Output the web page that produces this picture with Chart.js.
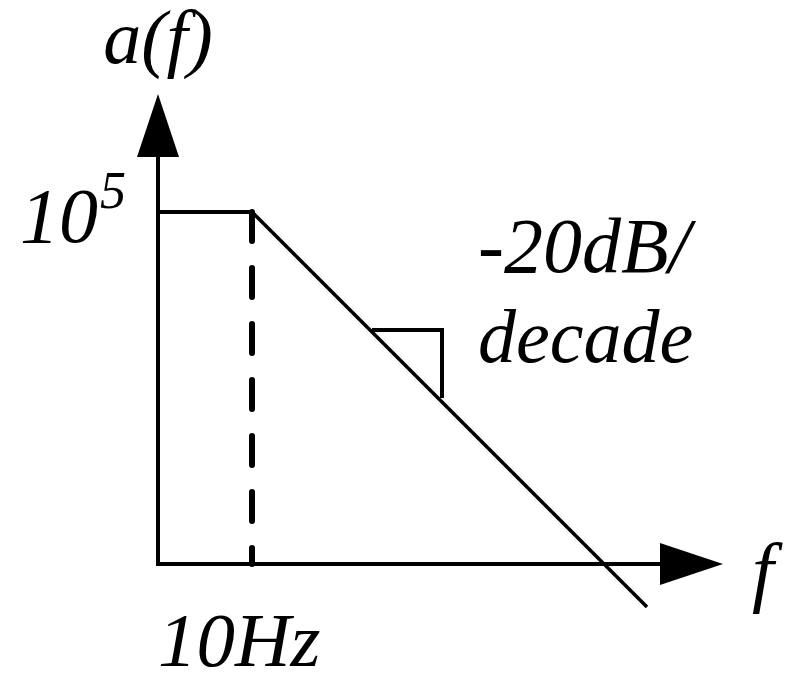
<!DOCTYPE html>
<html>
<head>
<meta charset="utf-8">
<script src="https://cdn.jsdelivr.net/npm/chart.js@4/dist/chart.umd.min.js"></script>
<style>
  html, body { margin: 0; padding: 0; background: #ffffff; }
  #wrap { width: 793px; height: 673px; position: relative; }
</style>
</head>
<body>
<div id="wrap"><canvas id="c"></canvas></div>
<script>
// Schematic Bode magnitude plot (abstract sketch units)
const responseX = [0, 9.4, 48.9];      // flat gain, then -20dB/decade roll-off
const responseY = [35.2, 35.2, -4.3];
const cornerX = [9.4, 9.4];            // 10 Hz corner (dashed)
const cornerY = [35.2, 0];
const slopeMarkX = [21.4, 28.4, 28.4]; // right-angle slope marker
const slopeMarkY = [23.4, 23.4, 16.6];
const yAxisX = [0, 0];
const yAxisY = [0, 41.0];
const xAxisX = [0, 50.6];
const xAxisY = [0, 0];
const yArrowX = [-2.1, 0, 2.1];
const yArrowY = [40.7, 47.0, 40.7];
const xArrowUpX = [50.2, 56.5];
const xArrowUpY = [2.1, 0];
const xArrowDnX = [50.2, 56.5];
const xArrowDnY = [-2.1, 0];

const labels = [
  { text: 'a(f)', x: 0, y: 50.1, size: 76, align: 'center' },
  { text: '10', x: -13.8, y: 32.2, size: 78, align: 'left' },
  { text: '5', x: -5.8, y: 35.6, size: 52, align: 'left' },
  { text: '-20dB/', x: 32.0, y: 29.2, size: 78, align: 'left' },
  { text: 'decade', x: 32.0, y: 20.2, size: 76, align: 'left' },
  { text: '10Hz', x: 0, y: -10.2, size: 77, align: 'left' },
  { text: 'f', x: 59.4, y: -3.3, size: 78, align: 'left' }
];

const pts = (xs, ys) => xs.map((x, i) => ({ x: x, y: ys[i] }));
const base = { showLine: true, pointRadius: 0, pointHoverRadius: 0, borderColor: '#000', backgroundColor: '#000', clip: false };

const textPlugin = {
  id: 'texts',
  afterDraw(chart) {
    const ctx = chart.ctx, xs = chart.scales.x, ys = chart.scales.y;
    ctx.save();
    ctx.fillStyle = '#000';
    ctx.textBaseline = 'alphabetic';
    labels.forEach(l => {
      ctx.font = 'italic ' + l.size + 'px "Liberation Serif", "Times New Roman", serif';
      ctx.textAlign = l.align;
      ctx.fillText(l.text, xs.getPixelForValue(l.x), ys.getPixelForValue(l.y));
    });
    ctx.restore();
  }
};

new Chart(document.getElementById('c'), {
  type: 'scatter',
  data: {
    datasets: [
      Object.assign({}, base, { data: pts(yAxisX, yAxisY), borderWidth: 4, borderCapStyle: 'square' }),
      Object.assign({}, base, { data: pts(xAxisX, xAxisY), borderWidth: 4, borderCapStyle: 'square' }),
      Object.assign({}, base, { data: pts(yArrowX, yArrowY), borderWidth: 0, fill: { value: 40.7 } }),
      Object.assign({}, base, { data: pts(xArrowUpX, xArrowUpY), borderWidth: 0, fill: { value: 0 } }),
      Object.assign({}, base, { data: pts(xArrowDnX, xArrowDnY), borderWidth: 0, fill: { value: 0 } }),
      Object.assign({}, base, { data: pts(cornerX, cornerY), borderWidth: 6, borderDash: [29, 27], borderCapStyle: 'round' }),
      Object.assign({}, base, { data: pts(responseX.slice(0, 2), responseY.slice(0, 2)), borderWidth: 4 }),
      Object.assign({}, base, { data: pts(responseX.slice(1), responseY.slice(1)), borderWidth: 3.5 }),
      Object.assign({}, base, { data: pts(slopeMarkX, slopeMarkY), borderWidth: 4, borderJoinStyle: 'miter' })
    ]
  },
  options: {
    responsive: true,
    maintainAspectRatio: false,
    animation: false,
    events: [],
    layout: { padding: { left: 58, right: 35, top: 64, bottom: 9 } },
    plugins: { legend: { display: false }, tooltip: { enabled: false } },
    scales: {
      x: { type: 'linear', min: -10, max: 60, display: false },
      y: { type: 'linear', min: -10, max: 50, display: false }
    }
  },
  plugins: [textPlugin]
});
</script>
</body>
</html>
